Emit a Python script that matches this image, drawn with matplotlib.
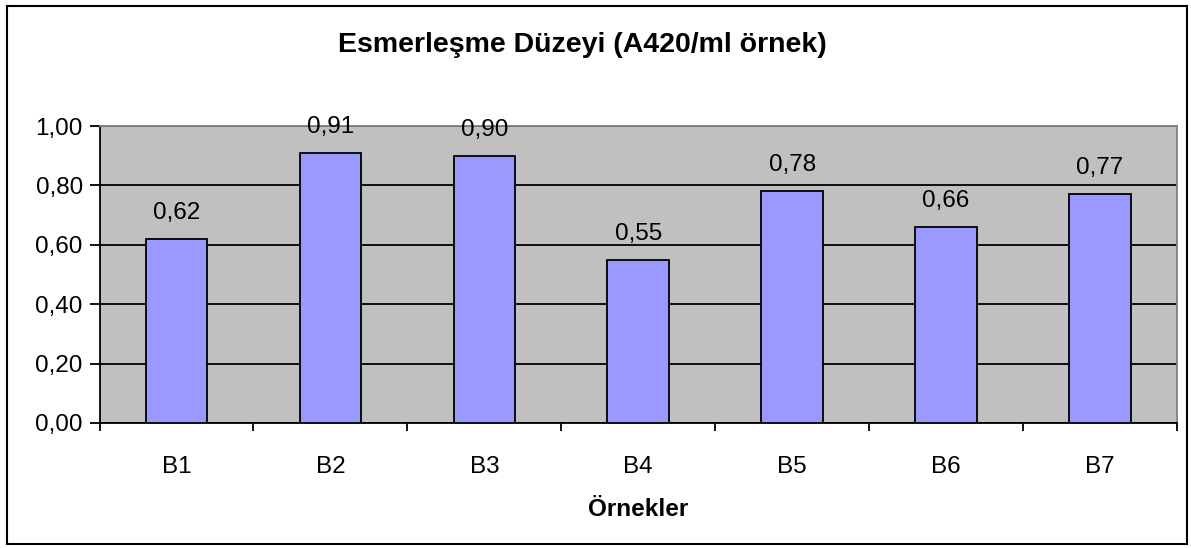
import matplotlib.pyplot as plt
from matplotlib.patches import Rectangle

plt.rcParams['font.family'] = ['Liberation Sans', 'DejaVu Sans']

samples = ['B1', 'B2', 'B3', 'B4', 'B5', 'B6', 'B7']
values = [0.62, 0.91, 0.90, 0.55, 0.78, 0.66, 0.77]
yticks = [0.0, 0.2, 0.4, 0.6, 0.8, 1.0]

fig = plt.figure(figsize=(11.91, 5.48), dpi=100)
fig.patches.append(Rectangle((7 / 1191, 4 / 548), 1180 / 1191, 538 / 548,
                             transform=fig.transFigure, fill=False,
                             edgecolor='black', linewidth=1.5))

ax = fig.add_axes([99.5 / 1191, 1 - 423 / 548, (1177 - 99.5) / 1191, (423 - 126) / 548])
ax.set_facecolor('#c0c0c0')

x = range(len(samples))
ax.bar(x, values, width=0.4, color='#9999ff', edgecolor='black', linewidth=1.3, zorder=3)
for i, v in zip(x, values):
    ax.text(i, v + 0.05, f'{v:.2f}'.replace('.', ','), ha='center', va='bottom', fontsize=17.5)

ax.set_xlim(-0.5, len(samples) - 0.5)
ax.set_ylim(0, 1)
ax.set_yticks(yticks)
ax.set_yticklabels([f'{t:.2f}'.replace('.', ',') for t in yticks], fontsize=17.5)
ax.yaxis.grid(True, color='black', linewidth=1.3, zorder=1)
ax.set_axisbelow(True)

ax.set_xticks(list(x))
ax.set_xticklabels(samples, fontsize=17.5)
ax.tick_params(axis='x', length=0, pad=24)
ax.set_xticks([i + 0.5 for i in range(-1, len(samples))], minor=True)
ax.tick_params(axis='x', which='minor', length=6, width=1.3, direction='out')
ax.tick_params(axis='y', length=7, width=1.3, pad=5)

for side in ['top', 'right']:
    ax.spines[side].set_color('#808080')
    ax.spines[side].set_linewidth(1.3)
for side in ['left', 'bottom']:
    ax.spines[side].set_linewidth(1.3)

ax.set_xlabel('Örnekler', fontsize=17.5, fontweight='bold', labelpad=14)
fig.text(582 / 1191, 1 - 45 / 548, 'Esmerleşme Düzeyi (A420/ml örnek)',
         ha='center', va='center', fontsize=20.5, fontweight='bold')

fig.savefig('out.png', dpi=100)
plt.close()
